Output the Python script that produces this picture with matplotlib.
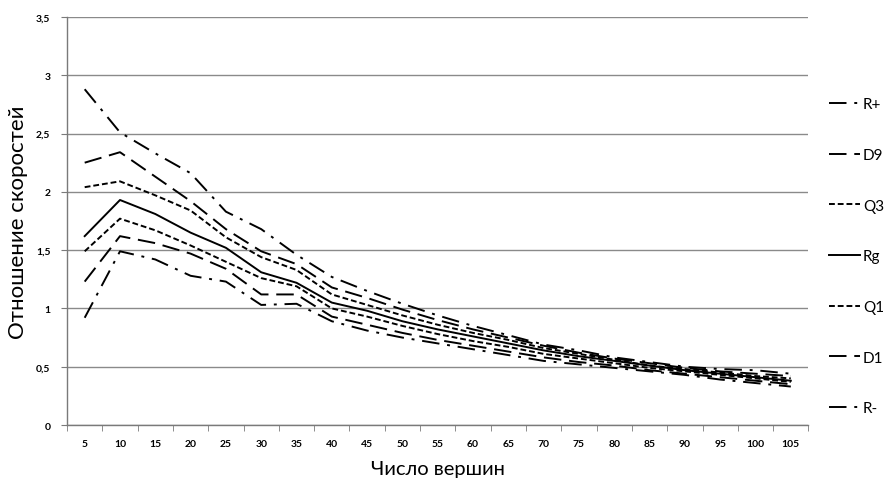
import matplotlib
matplotlib.use('Agg')
import matplotlib.pyplot as plt
from matplotlib.ticker import FuncFormatter

# число вершин
vertices = [5, 10, 15, 20, 25, 30, 35, 40, 45, 50, 55, 60, 65, 70, 75, 80, 85, 90, 95, 100, 105]

r_plus = [2.88, 2.51, 2.33, 2.16, 1.83, 1.68, 1.46, 1.27, 1.15, 1.04, 0.94, 0.85, 0.77, 0.69, 0.64, 0.58, 0.54, 0.50, 0.48, 0.47, 0.44]
d9 = [2.25, 2.34, 2.13, 1.92, 1.68, 1.49, 1.38, 1.18, 1.09, 0.99, 0.90, 0.82, 0.75, 0.68, 0.62, 0.57, 0.53, 0.49, 0.46, 0.44, 0.42]
q3 = [2.04, 2.09, 1.97, 1.84, 1.61, 1.44, 1.33, 1.12, 1.03, 0.94, 0.86, 0.79, 0.73, 0.66, 0.61, 0.56, 0.51, 0.48, 0.45, 0.42, 0.40]
rg = [1.62, 1.93, 1.81, 1.65, 1.52, 1.31, 1.22, 1.05, 0.98, 0.89, 0.82, 0.76, 0.70, 0.64, 0.59, 0.55, 0.51, 0.47, 0.44, 0.41, 0.38]
q1 = [1.49, 1.77, 1.67, 1.54, 1.40, 1.26, 1.19, 1.00, 0.93, 0.85, 0.78, 0.72, 0.67, 0.61, 0.57, 0.53, 0.49, 0.46, 0.43, 0.40, 0.37]
d1 = [1.23, 1.62, 1.56, 1.47, 1.34, 1.12, 1.12, 0.93, 0.86, 0.79, 0.73, 0.68, 0.63, 0.58, 0.54, 0.51, 0.47, 0.44, 0.41, 0.38, 0.35]
r_minus = [0.92, 1.49, 1.42, 1.28, 1.23, 1.03, 1.04, 0.89, 0.81, 0.75, 0.70, 0.65, 0.60, 0.55, 0.52, 0.49, 0.46, 0.43, 0.39, 0.36, 0.33]

labels = ['R+', 'D9', 'Q3', 'Rg', 'Q1', 'D1', 'R-']
series = [r_plus, d9, q3, rg, q1, d1, r_minus]

dashdot = (0, (9, 4, 1.5, 4))
longdash = (0, (9, 4))
shortdash = (0, (3, 1.5))
styles = [dashdot, longdash, shortdash, '-', shortdash, longdash, dashdot]

plt.rcParams['font.family'] = ['Lato', 'DejaVu Sans']

fig = plt.figure(figsize=(8.89, 4.85), dpi=100)
ax = fig.add_axes([0.0754, 0.1216, 0.834, 0.8414])

pos = list(range(len(vertices)))
for vals, lab, ls in zip(series, labels, styles):
    ax.plot(pos, vals, color='black', linestyle=ls, linewidth=1.4, label=lab)

ax.set_xlim(-0.5, len(vertices) - 0.5)
ax.set_ylim(0, 3.5)
ax.set_yticks([0, 0.5, 1, 1.5, 2, 2.5, 3, 3.5])
ax.yaxis.set_major_formatter(FuncFormatter(lambda v, p: ('%g' % v).replace('.', ',')))
ax.set_xticks(pos)
ax.set_xticklabels([str(v) for v in vertices])
ax.set_xticks([p - 0.5 for p in pos] + [len(vertices) - 0.5], minor=True)

ax.grid(axis='y', color='#8a8a8a', linewidth=1.0)
ax.set_axisbelow(True)
for side in ['top', 'right']:
    ax.spines[side].set_visible(False)
for side in ['left', 'bottom']:
    ax.spines[side].set_color('#7a7a7a')
    ax.spines[side].set_linewidth(1.0)

ax.tick_params(axis='x', which='major', length=0, pad=10, labelsize=7.5)
ax.tick_params(axis='x', which='minor', length=4, color='#7a7a7a', direction='out')
ax.tick_params(axis='y', length=4, color='#7a7a7a', labelsize=7.5, pad=8)
for t in ax.get_xticklabels() + ax.get_yticklabels():
    t.set_fontweight('bold')

ax.set_xlabel('Число вершин', fontsize=14.5)
ax.set_ylabel('Отношение скоростей', fontsize=16)
ax.xaxis.set_label_coords(0.5, -0.085)
ax.yaxis.set_label_coords(-0.052, 0.5)

leg = fig.legend(loc='upper left', bbox_to_anchor=(0.926, 0.81), frameon=False,
                 fontsize=11, handlelength=2.0, handletextpad=0.2,
                 labelspacing=2.4, borderaxespad=0)

fig.savefig('out.png', dpi=100)
